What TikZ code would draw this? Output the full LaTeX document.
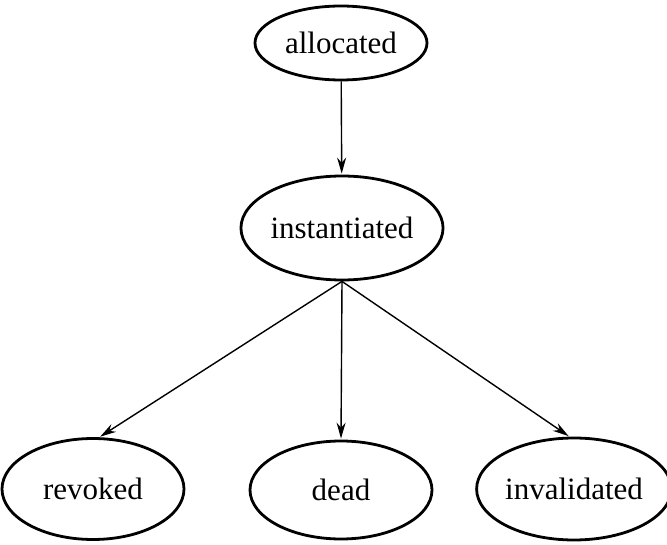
\documentclass[tikz,border=0pt]{standalone}
\usepackage{fontspec}
\setmainfont{Liberation Serif}
\usepackage{tikz}
\usetikzlibrary{shapes.geometric, arrows.meta}

\begin{document}
\begin{tikzpicture}[x=1pt, y=-1pt,
    state/.style={draw, ellipse, line width=2.8pt, inner sep=0pt, font=\fontsize{31}{36}\selectfont},
    trans/.style={-{Stealth[length=16pt, width=9pt]}, line width=1.4pt, shorten >=1pt}]
    \useasboundingbox (0,0) rectangle (667,545);
    \node[state, minimum width=172pt, minimum height=74pt] (alloc) at (341,43) {allocated};
    \node[state, minimum width=190pt, minimum height=104pt] (inst) at (342,228) {instantiated};
    \node[state, minimum width=182pt, minimum height=101pt] (revoked) at (93,489) {revoked};
    \node[state, minimum width=182pt, minimum height=98pt] (dead) at (341,490) {dead};
    \node[state, minimum width=181pt, minimum height=102pt] (invalid) at (574,489) {invalidated};
    \draw[trans] (alloc) -- (inst);
    \draw[trans] (inst.south) -- (revoked.83);
    \draw[trans] (inst.south) -- (dead.north);
    \draw[trans] (inst.south) -- (invalid.95);
  \end{tikzpicture}
\end{document}
